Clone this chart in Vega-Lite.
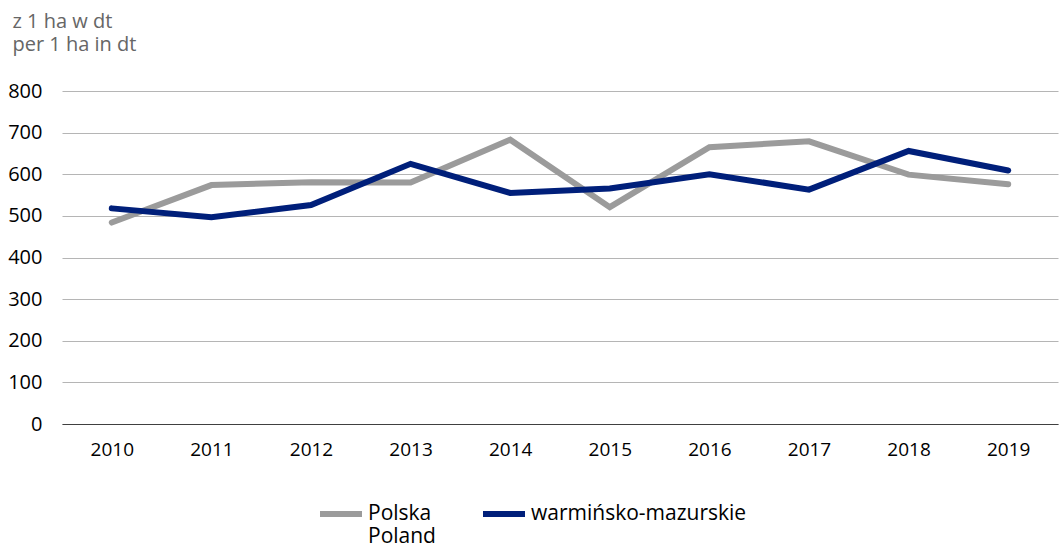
{
  "$schema": "https://vega.github.io/schema/vega-lite/v6.json",
  "autosize": {"type": "none"},
  "width": 996,
  "height": 333,
  "padding": {"left": 62, "top": 91, "right": 3, "bottom": 120},
  "background": "white",
  "config": {
    "font": "Open Sans",
    "view": {"stroke": null}
  },
  "data": {
    "values": [
      {"year": "2010", "series": "Polska", "value": 484},
      {"year": "2011", "series": "Polska", "value": 574},
      {"year": "2012", "series": "Polska", "value": 581},
      {"year": "2013", "series": "Polska", "value": 580},
      {"year": "2014", "series": "Polska", "value": 683},
      {"year": "2015", "series": "Polska", "value": 521},
      {"year": "2016", "series": "Polska", "value": 665},
      {"year": "2017", "series": "Polska", "value": 679},
      {"year": "2018", "series": "Polska", "value": 599},
      {"year": "2019", "series": "Polska", "value": 576},
      {"year": "2010", "series": "warmińsko-mazurskie", "value": 518},
      {"year": "2011", "series": "warmińsko-mazurskie", "value": 497},
      {"year": "2012", "series": "warmińsko-mazurskie", "value": 526},
      {"year": "2013", "series": "warmińsko-mazurskie", "value": 625},
      {"year": "2014", "series": "warmińsko-mazurskie", "value": 555},
      {"year": "2015", "series": "warmińsko-mazurskie", "value": 566},
      {"year": "2016", "series": "warmińsko-mazurskie", "value": 600},
      {"year": "2017", "series": "warmińsko-mazurskie", "value": 563},
      {"year": "2018", "series": "warmińsko-mazurskie", "value": 656},
      {"year": "2019", "series": "warmińsko-mazurskie", "value": 609}
    ]
  },
  "mark": {"type": "line", "strokeWidth": 6, "strokeCap": "round", "strokeJoin": "miter"},
  "encoding": {
    "x": {
      "field": "year",
      "type": "ordinal",
      "scale": {"type": "point", "padding": 0.5},
      "axis": {
        "title": null,
        "labelAngle": 0,
        "labelFontSize": 19,
        "labelColor": "#000000",
        "labelPadding": 16,
        "ticks": false,
        "domain": true,
        "domainColor": "#404040",
        "domainWidth": 1.2,
        "grid": false
      }
    },
    "y": {
      "field": "value",
      "type": "quantitative",
      "scale": {"domain": [0, 800], "nice": false},
      "axis": {
        "values": [0, 100, 200, 300, 400, 500, 600, 700, 800],
        "title": ["z 1 ha w dt", "per 1 ha in dt"],
        "titleAngle": 0,
        "titleAlign": "left",
        "titleBaseline": "alphabetic",
        "titleX": -50,
        "titleY": -64,
        "titleFontSize": 20,
        "titleFontWeight": "normal",
        "titleColor": "#666666",
        "titleLineHeight": 23,
        "labelFontSize": 20,
        "labelColor": "#000000",
        "labelPadding": 20,
        "ticks": false,
        "domain": false,
        "grid": true,
        "gridColor": "#b5b5b5",
        "gridWidth": 1.2
      }
    },
    "color": {
      "field": "series",
      "type": "nominal",
      "scale": {"domain": ["Polska", "warmińsko-mazurskie"], "range": ["#9b9b9b", "#001f7a"]},
      "legend": {
        "title": null,
        "orient": "none",
        "legendX": 255,
        "legendY": 399,
        "direction": "horizontal",
        "symbolType": "stroke",
        "symbolSize": 1764,
        "symbolStrokeWidth": 6,
        "labelFontSize": 21,
        "labelColor": "#000000",
        "labelExpr": "datum.label == 'Polska' ? ['Polska', 'Poland'] : [datum.label, ' ']",
        "labelBaseline": "middle",
        "labelOffset": 3,
        "columnPadding": 35,
        "labelLimit": 300
      }
    }
  }
}
